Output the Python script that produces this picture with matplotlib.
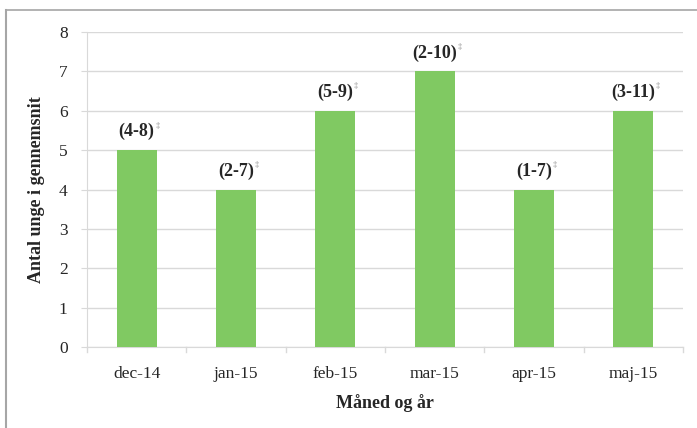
import matplotlib.pyplot as plt
from matplotlib.lines import Line2D

months = ["dec-14", "jan-15", "feb-15", "mar-15", "apr-15", "maj-15"]
averages = [5, 4, 6, 7, 4, 6]
ranges = ["(4-8)", "(2-7)", "(5-9)", "(2-10)", "(1-7)", "(3-11)"]
y_ticks = [0, 1, 2, 3, 4, 5, 6, 7, 8]

serif = ["Liberation Serif", "DejaVu Serif"]
bar_color = "#80c962"
grid_color = "#d9d9d9"
text_color = "#262626"

fig = plt.figure(figsize=(6.97, 4.28), dpi=100)
fig.patch.set_facecolor("white")

# outer chart frame (left and top edges)
fig.add_artist(Line2D([6 / 697, 6 / 697], [0, 1 - 10 / 428], color="#a6a6a6", lw=1.5,
                      transform=fig.transFigure))
fig.add_artist(Line2D([6 / 697, 1], [1 - 10 / 428, 1 - 10 / 428], color="#a6a6a6", lw=1.2,
                      transform=fig.transFigure))

ax = fig.add_axes([87 / 697, 81 / 428, 596 / 697, 315 / 428])
x = list(range(len(months)))
ax.bar(x, averages, width=0.4, color=bar_color, zorder=3)

ax.set_xlim(-0.5, len(months) - 0.5)
ax.set_ylim(0, 8)
ax.set_yticks(y_ticks)
ax.set_yticklabels([str(t) for t in y_ticks], fontfamily=serif, fontsize=12.5, color=text_color)
ax.yaxis.grid(True, color=grid_color, lw=1, zorder=0)
ax.set_axisbelow(True)

ax.set_xticks(x)
ax.set_xticklabels(months, fontfamily=serif, fontsize=12.5, color=text_color)
ax.tick_params(axis="x", length=0, pad=14)
ax.tick_params(axis="y", length=4, color=grid_color, pad=10)

# category boundary tick marks below the x axis
for b in range(len(months) + 1):
    ax.plot([b - 0.5, b - 0.5], [0, -0.12], color=grid_color, lw=1, clip_on=False, zorder=2)

for side in ["top", "right"]:
    ax.spines[side].set_visible(False)
ax.spines["left"].set_color(grid_color)
ax.spines["bottom"].set_color(grid_color)

for xi, v, r in zip(x, averages, ranges):
    ann = ax.annotate(r, (xi, v), xytext=(0, 7), textcoords="offset points",
                      ha="center", va="bottom", fontfamily=serif, fontsize=13,
                      fontweight="bold", color=text_color)
    # small superscript mark after each range label
    ax.annotate("‡", (1.0, 0.85), xycoords=ann, xytext=(0.5, 0), textcoords="offset points",
                ha="left", va="center", fontfamily=serif, fontsize=6, color="#888888")

ax.set_ylabel("Antal unge i gennemsnit", fontfamily=serif, fontsize=13,
              fontweight="bold", color=text_color, labelpad=10)
ax.set_xlabel("Måned og år", fontfamily=serif, fontsize=13, fontweight="bold",
              color=text_color, labelpad=8)

fig.savefig("out.png", dpi=100)
